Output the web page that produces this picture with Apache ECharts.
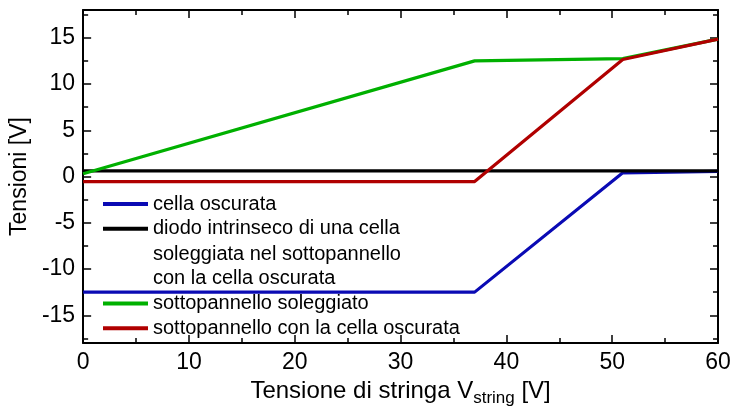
<!DOCTYPE html>
<html><head><meta charset="utf-8">
<script src="https://cdn.jsdelivr.net/npm/echarts@6/dist/echarts.min.js"></script>
<style>html,body{margin:0;padding:0;background:#fff}#c{width:747px;height:412px}</style>
</head><body><div id="c"></div>
<script>
// Data (Tensione di stringa [V] -> Tensioni [V])
const xCella = [0, 37, 51, 60];
const yCella = [-12.5, -12.5, 0.4, 0.55];
const xDiodo = [0, 60];
const yDiodo = [0.6, 0.6];
const xSole = [0, 37, 51, 60];
const ySole = [0.3, 12.5, 12.75, 14.85];
const xOsc = [0, 37, 51, 60];
const yOsc = [-0.55, -0.55, 12.65, 14.85];
const yMajor = [-15, -10, -5, 0, 5, 10, 15];
const yMinor = [-17.5, -12.5, -7.5, -2.5, 2.5, 7.5, 12.5, 17.5];
const names = ['cella oscurata', 'diodo intrinseco di una cella', 'sottopannello soleggiato', 'sottopannello con la cella oscurata'];
const extraLines = ['soleggiata nel sottopannello', 'con la cella oscurata'];
const colors = ['#0a0ab4', '#000000', '#00b000', '#b00000'];

const FF = "'Liberation Sans', Arial, sans-serif";
const pairs = (xs, ys) => xs.map((x, i) => [x, ys[i]]);

const tickLine = {color: '#000', width: 1.5};
function xAx(pos, showLabel) {
  return {
    type: 'value', min: 0, max: 60, interval: 10, position: pos,
    axisLine: {show: true, onZero: false, lineStyle: {color: '#000', width: 2}},
    axisTick: {show: true, inside: true, length: 8, lineStyle: tickLine},
    minorTick: {show: true, splitNumber: 2, length: 5, lineStyle: tickLine},
    splitLine: {show: false},
    axisLabel: {show: showLabel, fontSize: 23, color: '#000', fontFamily: FF, margin: 8}
  };
}
function yAx(pos, values, len, showLabel, line) {
  return {
    type: 'value', min: -18, max: 18, position: pos,
    axisLine: {show: line, onZero: false, lineStyle: {color: '#000', width: 2}},
    axisTick: {show: true, inside: true, length: len, customValues: values, lineStyle: tickLine},
    splitLine: {show: false},
    axisLabel: {show: showLabel, customValues: values, fontSize: 23, color: '#000', fontFamily: FF, margin: 8}
  };
}
const xa0 = xAx('bottom', true);
xa0.name = '{m|Tensione di stringa V}{s|string}{m| [V]}';
xa0.nameLocation = 'middle';
xa0.nameGap = 30;
xa0.nameTextStyle = {
  rich: {
    m: {fontSize: 24, lineHeight: 32, fontFamily: FF, color: '#000'},
    s: {fontSize: 17, lineHeight: 14, verticalAlign: 'bottom', fontFamily: FF, color: '#000'}
  }
};
const ya0 = yAx('left', yMajor, 8, true, true);
ya0.name = 'Tensioni [V]';
ya0.nameLocation = 'middle';
ya0.nameGap = 43;
ya0.nameTextStyle = {fontSize: 23, color: '#000', fontFamily: FF};

const ser = (name, xs, ys, c) => ({
  name, type: 'line', data: pairs(xs, ys), xAxisIndex: 0, yAxisIndex: 0,
  showSymbol: false, symbol: 'none', lineStyle: {color: c, width: 3.2}, itemStyle: {color: c},
  animation: false
});

const LH = 24.7;
const legendBase = {
  orient: 'vertical', left: 103, padding: 0, itemGap: 0, icon: 'rect',
  itemWidth: 45, itemHeight: 4, selectedMode: false,
  textStyle: {fontSize: 20, color: '#000', fontFamily: FF, lineHeight: LH}
};

const option = {
  animation: false,
  grid: {left: 83, right: 29, top: 10, bottom: 69, containLabel: false},
  xAxis: [xa0, xAx('top', false)],
  yAxis: [ya0, yAx('left', yMinor, 5, false, false), yAx('right', yMajor, 8, false, true), yAx('right', yMinor, 5, false, false)],
  legend: [
    Object.assign({}, legendBase, {top: 204 - LH / 2, data: [names[0], names[1]]}),
    Object.assign({}, legendBase, {top: 303.5 - LH / 2, data: [names[2], names[3]]})
  ],
  graphic: extraLines.map((t, i) => ({
    type: 'text', left: 153, top: 254 - LH / 2 + i * LH,
    style: {text: t, fontSize: 20, fill: '#000', fontFamily: FF, lineHeight: LH}
  })),
  series: [
    ser(names[0], xCella, yCella, colors[0]),
    ser(names[1], xDiodo, yDiodo, colors[1]),
    ser(names[2], xSole, ySole, colors[2]),
    ser(names[3], xOsc, yOsc, colors[3])
  ]
};
const chart = echarts.init(document.getElementById('c'), null, {renderer: 'canvas'});
chart.setOption(option);
</script></body></html>
